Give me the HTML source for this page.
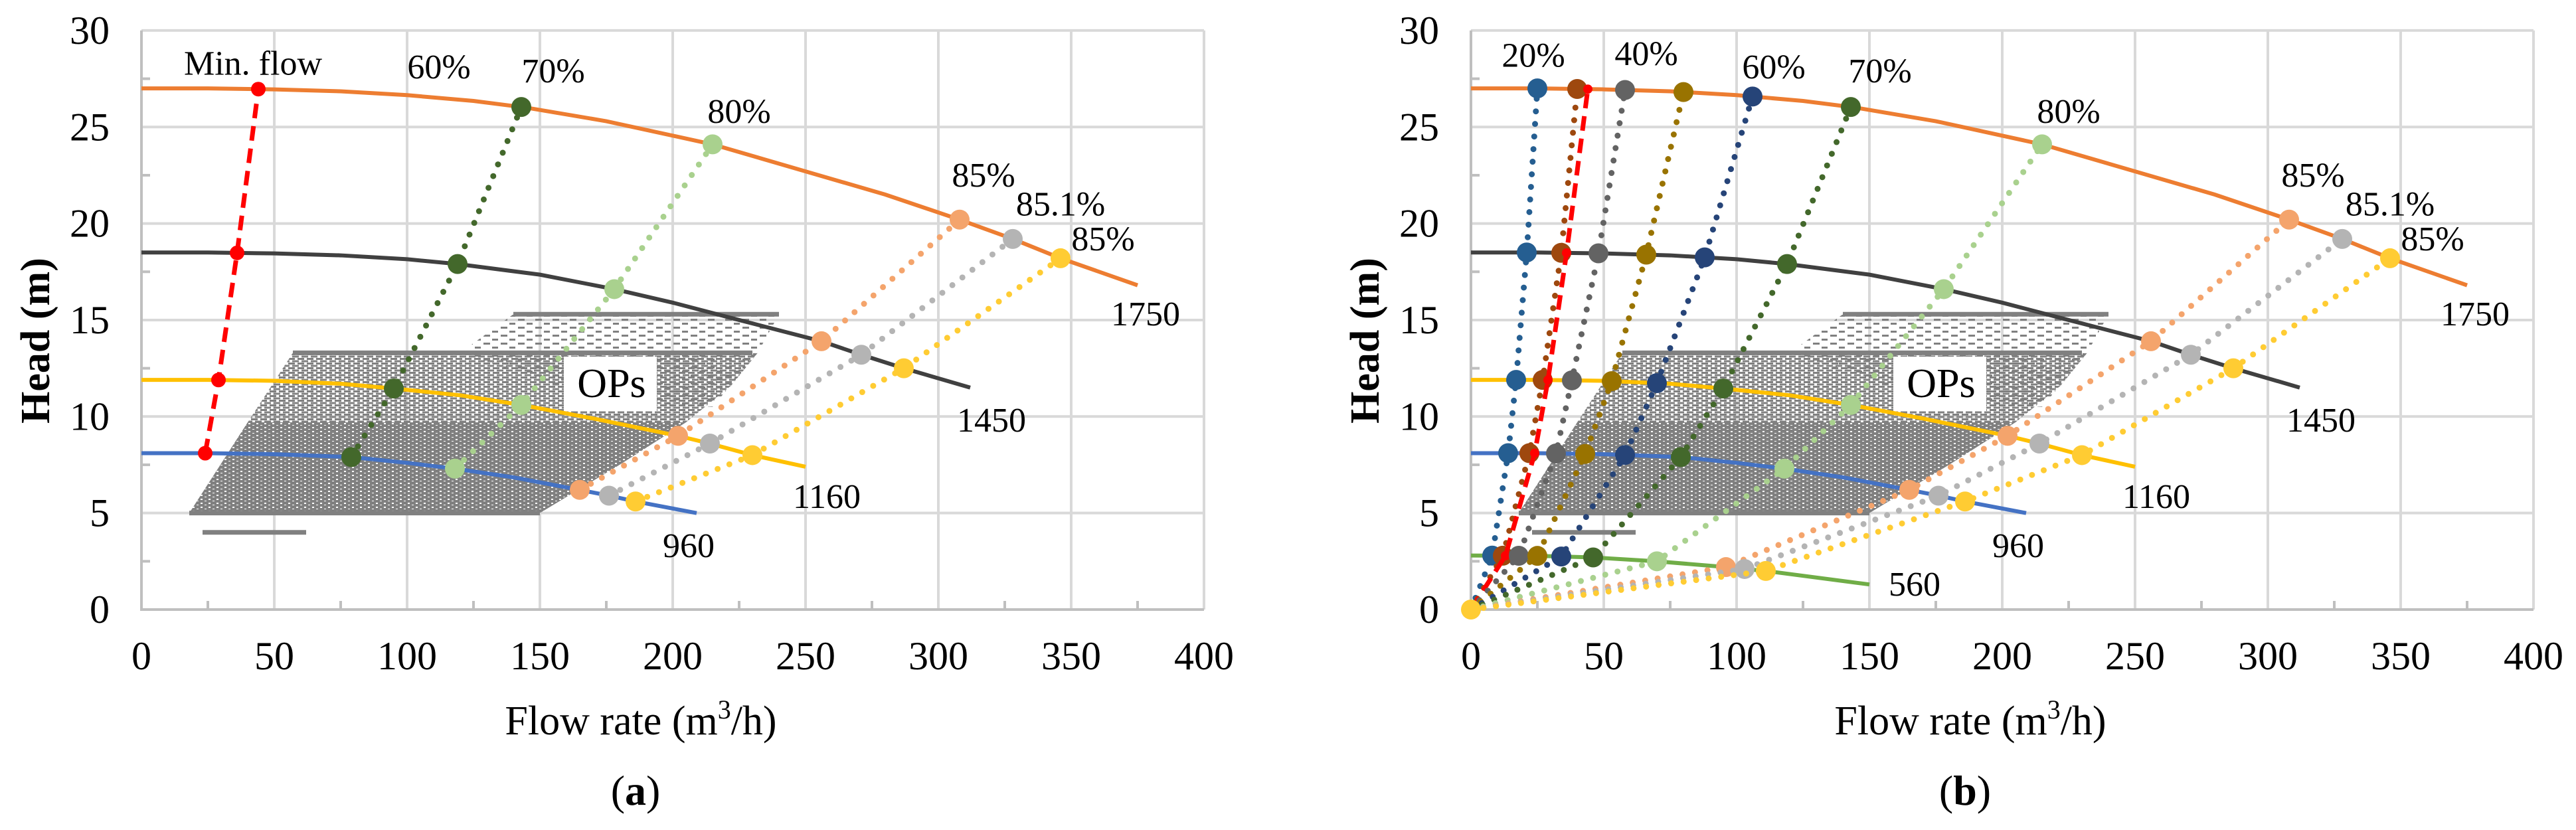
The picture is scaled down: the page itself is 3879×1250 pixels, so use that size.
<!DOCTYPE html>
<html><head><meta charset="utf-8"><style>
html,body{margin:0;padding:0;background:#fff;}
svg{display:block;font-family:"Liberation Serif",serif;}
</style></head><body>
<svg id="fig" width="3879" height="1250" viewBox="0 0 3879 1250" xmlns="http://www.w3.org/2000/svg">
<defs>
<pattern id="dense" width="12" height="6" patternUnits="userSpaceOnUse">
<rect x="0" y="0" width="12" height="6" fill="#808080"/><rect x="2" y="1" width="3" height="2" fill="#fff"/><rect x="8" y="4" width="3" height="1" fill="#fff"/>
</pattern>
<pattern id="medium" width="14" height="7" patternUnits="userSpaceOnUse">
<rect x="0" y="0" width="10" height="3" fill="#808080"/><rect x="6" y="3.5" width="10" height="3" fill="#808080"/><rect x="-8" y="3.5" width="10" height="3" fill="#808080"/>
</pattern>
<pattern id="sparse" width="26" height="12" patternUnits="userSpaceOnUse">
<rect x="0" y="0" width="10" height="3" fill="#808080"/><rect x="13" y="6" width="9" height="3" fill="#808080"/>
</pattern>
</defs>
</svg>
<script>
// ---- data ----
const xTicks = [0,50,100,150,200,250,300,350,400];
const yTicks = [0,5,10,15,20,25,30];
const q1750 = [0,25,50,75,100,125,145,175,215,250,280,308,328,346,375];
const h1750 = [27,27,26.95,26.85,26.65,26.35,26.0,25.3,24.1,22.7,21.5,20.2,19.2,18.2,16.8];
const q1450 = [0,25,50,75,100,119,150,178,200,225,256,271,287,312];
const h1450 = [18.5,18.5,18.45,18.35,18.15,17.9,17.35,16.6,15.9,15.0,13.9,13.2,12.5,11.5];
const q1160 = [0,25,50,75,95,120,143,170,202,214,230,250];
const h1160 = [11.9,11.9,11.85,11.7,11.45,11.1,10.6,9.9,9.0,8.6,8.0,7.4];
const q960 = [0,25,50,79,100,118,140,165,176,186,209];
const h960 = [8.1,8.1,8.05,7.9,7.6,7.3,6.85,6.2,5.9,5.6,5.0];
const q560 = [0,25,46,70,96,103,111,150];
const h560 = [2.8,2.78,2.7,2.5,2.2,2.1,2.0,1.3];
// efficiency-line flows at speeds [560, 960, 1160, 1450, 1750]
const effNames = ["20%","30%","min-flow","35%","40%","60%","70%","80%","85%-a","85.1%","85%-b"];
const effColors = ["#255E91","#9E480E","#FF0000","#636363","#997300","#264478","#43682B","#A9D18E","#F4A46C","#B4B4B4","#FFCC33"];
const effFlows = [
 [8,14,17,21,25],[12,22,27,34,40],[13,24,29,36,44],[18,32,38,48,58],[25,43,53,66,80],
 [34,58,70,88,106],[46,79,95,119,143],[70,118,143,178,215],[96,165,202,256,308],
 [103,176,214,271,328],[111,186,230,287,346]];
const panelAEff = ["min-flow","70%","80%","85%-a","85.1%","85%-b"];
const labelsA = [["Min. flow",42,28.3],["60%",112,28.1],["70%",155,27.9],["80%",225,25.8],["85%",317,22.5],["85.1%",346,21.0],["85%",362,19.2],["1750",378,15.3],["1450",320,9.8],["1160",258,5.85],["960",206,3.3]];
const labelsB = [["20%",23.5,28.7],["40%",66,28.8],["60%",114,28.1],["70%",154,27.9],["80%",225,25.8],["85%",317,22.5],["85.1%",346,21.0],["85%",362,19.2],["1750",378,15.3],["1450",320,9.8],["1160",258,5.85],["960",206,3.3],["560",167,1.3]];
const cloudDense = [[18,5],[150,5],[180,7.5],[205,9.7],[40,9.7]];
const cloudMedium = [[40,9.7],[205,9.7],[222,11.6],[232,13.3],[57,13.3]];
const cloudSparse = [[140,15.3],[240,15.3],[232,13.3],[215,10.5],[175,10.8],[120,13.3]];
const bandLines = [[57,230,13.3],[140,240,15.3],[23,62,4.0],[18,150,5.0]];

const NS="http://www.w3.org/2000/svg";
const svg=document.getElementById('fig');
function el(tag,attrs,parent){const e=document.createElementNS(NS,tag);for(const k in attrs)e.setAttribute(k,attrs[k]);(parent||svg).appendChild(e);return e;}
function interp(qs,hs,q){for(let i=0;i<qs.length-1;i++){if(q<=qs[i+1]){const t=(q-qs[i])/(qs[i+1]-qs[i]);return hs[i]+t*(hs[i+1]-hs[i]);}}return hs[hs.length-1];}
const curves=[[q560,h560,"#70AD47","560"],[q960,h960,"#4472C4","960"],[q1160,h1160,"#FFC000","1160"],[q1450,h1450,"#404040","1450"],[q1750,h1750,"#ED7D31","1750"]];

function panel(x0,isB,title){
  const X=q=>x0+q*4.0, Y=h=>918-h*29.07;
  const g=el('g',{});
  
  
  yTicks.forEach(t=>{if(t>0){const l=el('line',{x1:X(0),x2:X(400),y1:Y(t),y2:Y(t),stroke:'#d9d9d9','stroke-width':4},g);}});
  xTicks.forEach(t=>{if(t>0){const l=el('line',{x1:X(t),x2:X(t),y1:Y(0),y2:Y(30),stroke:'#d9d9d9','stroke-width':4},g);}});
  for(let t=25;t<400;t+=50){el('line',{x1:X(t),x2:X(t),y1:Y(0),y2:Y(0)-13,stroke:'#bfbfbf','stroke-width':4},g);}
  for(let t=2.5;t<30;t+=5){el('line',{x1:X(0),x2:X(0)+13,y1:Y(t),y2:Y(t),stroke:'#bfbfbf','stroke-width':4},g);}
  const ax=el('path',{d:`M${X(0)} ${Y(30)} V${Y(0)} H${X(400)}`,fill:'none',stroke:'#bfbfbf','stroke-width':4},g);
  
  yTicks.forEach(t=>{const e=el('text',{x:X(0)-48,y:Y(t)+20,'font-size':60,'text-anchor':'end'},g);e.textContent=t;});
  xTicks.forEach(t=>{const e=el('text',{x:X(t),y:1008,'font-size':60,'text-anchor':'middle'},g);e.textContent=t;});
  const pd=pts=>'M'+pts.map(p=>X(p[0])+' '+Y(p[1])).join(' L')+'Z';
  const c1=el('path',{d:pd(cloudSparse),fill:'url(#sparse)'},g);
  const c3=el('path',{d:pd(cloudMedium),fill:'url(#medium)'},g);
  const c2=el('path',{d:pd(cloudDense),fill:'url(#dense)'},g);
  bandLines.forEach(b=>{const l=el('line',{x1:X(b[0]),x2:X(b[1]),y1:Y(b[2]),y2:Y(b[2]),stroke:'#808080','stroke-width':7},g);});
  el('rect',{x:X(159),y:Y(13.1),width:140,height:82,fill:'#fff'},g);
  const ops=el('text',{x:X(177),y:Y(11.7)+20,'font-size':62,'text-anchor':'middle'},g);ops.textContent='OPs';
  
  curves.forEach(c=>{if(!isB&&c[3]==="560")return;
    const p=el('polyline',{points:c[0].map((q,i)=>X(q)+','+Y(c[1][i])).join(' '),fill:'none',stroke:c[2],'stroke-width':6},g);
    });
  effNames.forEach((nm,k)=>{
    if(!isB&&panelAEff.indexOf(nm)<0)return;
    const pts=[];if(isB)pts.push([0,0]);
    effFlows[k].forEach((q,i)=>{if(!isB&&i===0)return;const c=curves[i];pts.push([q,interp(c[0],c[1],q)]);});
    const red=nm==="min-flow";
    const l=el('polyline',{points:pts.map(p=>X(p[0])+','+Y(p[1])).join(' '),fill:'none',stroke:effColors[k],'stroke-width':red?7:9,'stroke-linecap':red?'butt':'round','stroke-dasharray':red?'22 12':'0 19'},g);
    
    pts.forEach((p,i)=>{if(isB&&i===0)return;
      const m=el('circle',{cx:X(p[0]),cy:Y(p[1]),r:red?(isB?7:11):15,fill:effColors[k]},g);
      });
  });
  if(isB){const o=el('circle',{cx:X(0),cy:Y(0),r:15,fill:'#FFCC33'},g);}
  (isB?labelsB:labelsA).forEach(L=>{const e=el('text',{x:X(L[1]),y:Y(L[2])+17,'font-size':52,'text-anchor':'middle'},g);e.textContent=L[0];});
  const yt=el('text',{x:0,y:0,'font-size':62,'font-weight':'bold','text-anchor':'middle',transform:`translate(${x0-161+22},513) rotate(-90)`},g);
  yt.textContent='Head (m)';
  const xt=el('text',{x:X(188),y:1106,'font-size':62,'text-anchor':'middle'},g);
  xt.innerHTML='Flow rate (m<tspan font-size="40" dy="-24">3</tspan><tspan dy="24">/h)</tspan>';
  
  const pl=el('text',{x:X(186),y:1212,'font-size':64,'text-anchor':'middle'},g);
  pl.innerHTML='(<tspan font-weight="bold">'+title+'</tspan>)';
  
}
panel(213,false,'a');
panel(2215,true,'b');
</script>
</body></html>
